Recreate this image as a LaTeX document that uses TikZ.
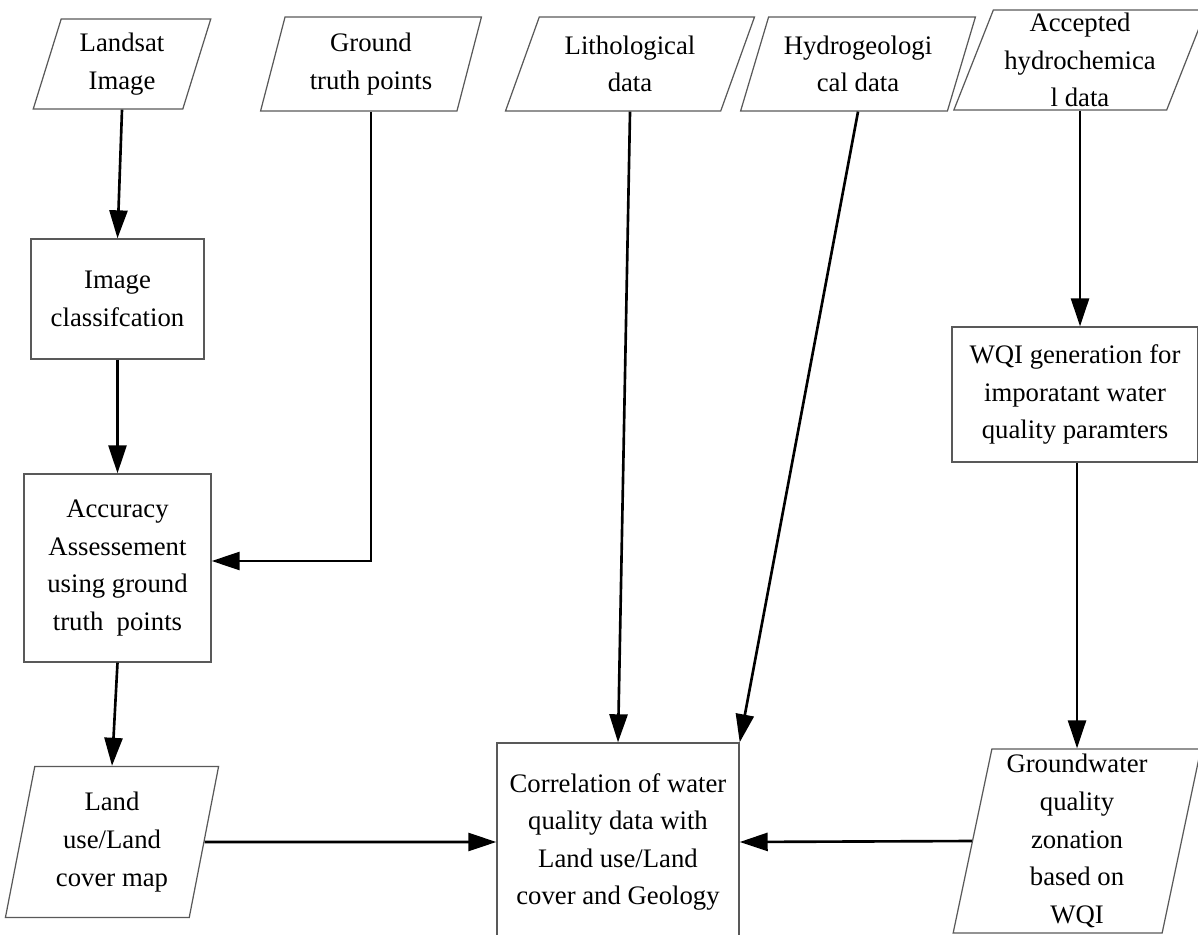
\documentclass[tikz,border=0pt]{standalone}
\usepackage{fontspec}
\setmainfont{Liberation Serif}
\usetikzlibrary{arrows.meta,calc,shapes.geometric}

\begin{document}
\begin{tikzpicture}[x=0.01cm,y=-0.01cm,
  font=\fontsize{7.6}{10.7}\selectfont,
  datain/.style={trapezium, trapezium left angle=#1, trapezium right angle={180-#1},
    trapezium stretches=true, draw=black!65, line width=0.35pt, align=center, inner sep=1pt},
  procbox/.style={rectangle, draw=black!65, line width=0.35pt, align=center, inner sep=1pt},
  flow/.style={line width=0.75pt, -{Triangle[length=0.28cm,width=0.18cm]}}]
  \useasboundingbox (0,0) rectangle (1198,934);
  \clip (0,0) rectangle (1198,934);
  % 顶部输入数据（平行四边形）
  \node[datain=73, minimum width=1.78cm, minimum height=0.90cm] (landsat) at (122,64) {Landsat\\Image};
  \node[datain=75, minimum width=2.21cm, minimum height=0.94cm] (ground) at (371,64) {Ground\\truth points};
  \node[datain=68, minimum width=2.49cm, minimum height=0.94cm] (litho) at (630,64) {Lithological\\data};
  \node[datain=69, minimum width=2.35cm, minimum height=0.94cm] (hydro) at (858,64) {Hydrogeologi\\cal data};
  \node[datain=69, minimum width=2.53cm, minimum height=1.00cm, inner ysep=0pt] (accepted) at (1080,60) {Accepted\\hydrochemica\\l data};
  % 处理步骤（矩形）
  \node[procbox, minimum width=1.73cm, minimum height=1.20cm] (imgcls) at (117.5,299) {Image\\classifcation};
  \node[procbox, minimum width=1.87cm, minimum height=1.88cm] (accu) at (117.5,568) {Accuracy\\Assessement\\using ground\\truth\ \ points};
  \node[procbox, minimum width=2.46cm, minimum height=1.35cm] (wqi) at (1075,394.5) {WQI generation for\\imporatant water\\quality paramters};
  \node[procbox, minimum width=2.42cm, minimum height=1.98cm] (corr) at (618,842) {Correlation of water\\quality data with\\Land use/Land\\cover and Geology};
  % 底部输出
  \node[datain=78, minimum width=2.14cm, minimum height=1.51cm] (landuse) at (112,842) {Land\\use/Land\\cover map};
  \node[datain=79, minimum width=2.48cm, minimum height=1.84cm, inner ysep=0pt] (gw) at (1077,841) {Groundwater\\quality\\zonation\\based on\\WQI};
  % 连线
  \draw[flow] (landsat.south) -- (imgcls.north);
  \draw[flow] (imgcls.south) -- (accu.north);
  \draw[flow] (ground.south) |- ($(accu.east)+(0,-7)$);
  \draw[flow] (accu.south) -- (landuse.north);
  \draw[flow] (landuse.east) -- (corr.west);
  \draw[flow] (litho.south) -- (corr.north);
  \draw[flow] (hydro.south) -- (corr.north east);
  \draw[flow] (accepted.south) -- (accepted.south |- wqi.north);
  \draw[flow] (gw.north |- wqi.south) -- (gw.north);
  \draw[flow] (gw.west) -- (corr.east);
\end{tikzpicture}
\end{document}
